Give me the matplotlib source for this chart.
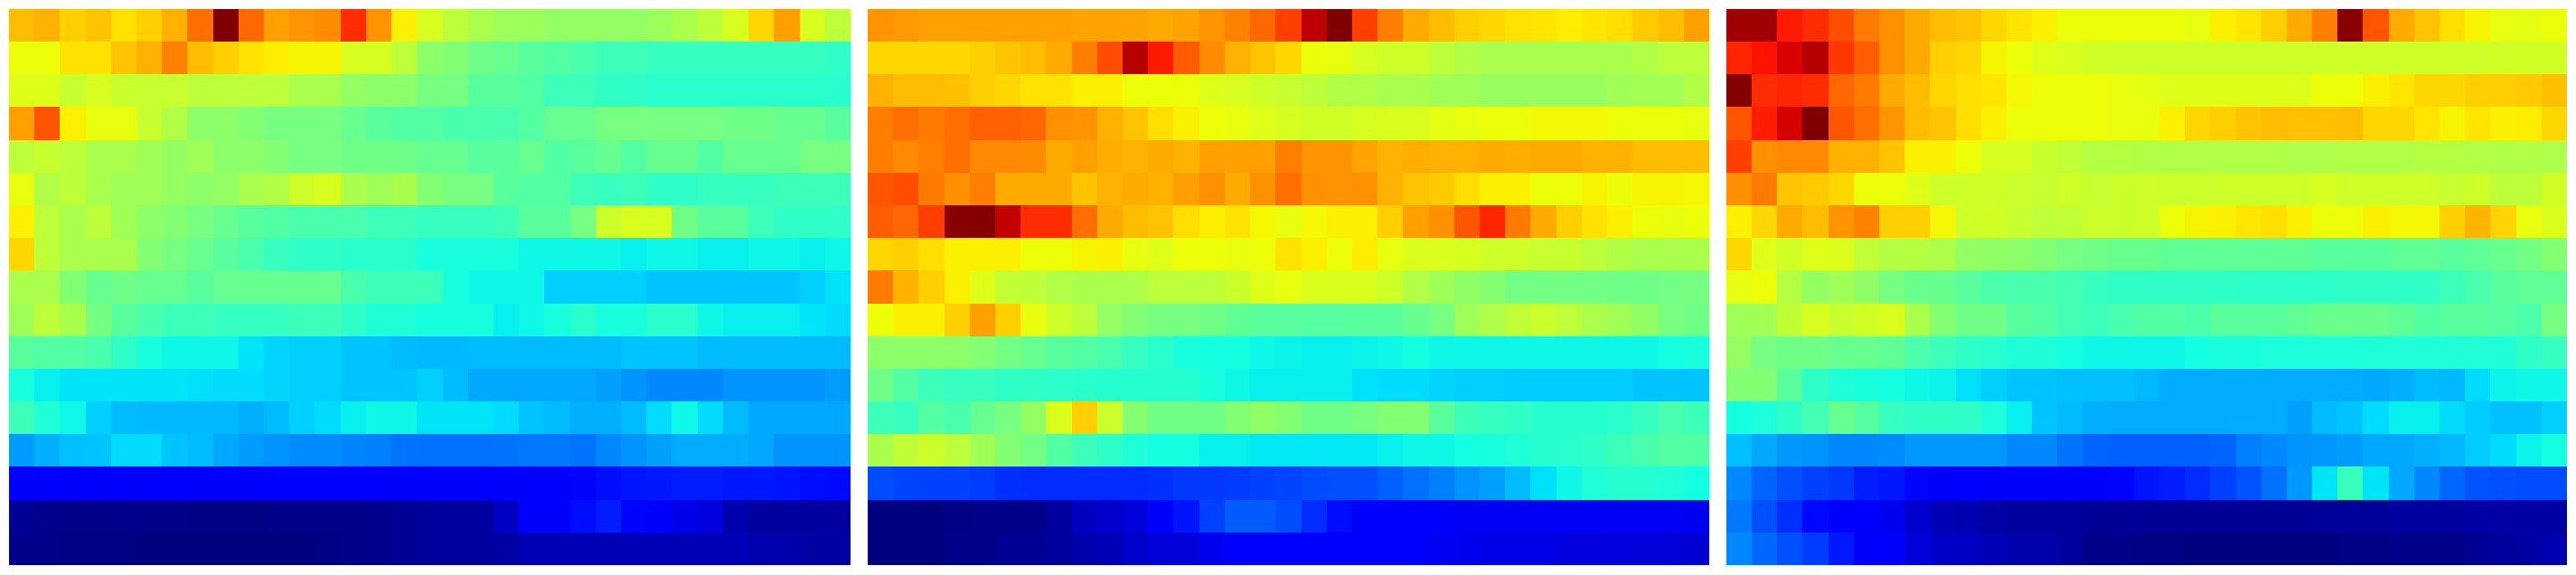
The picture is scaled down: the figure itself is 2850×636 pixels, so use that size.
import numpy as np
import matplotlib
matplotlib.use('Agg')
import matplotlib.pyplot as plt

# values, percent of the jet range, top row first
panel_a = [
    [71,72,69,70,67,69,72,79,100,80,74,75,76,86,75,65.5,61,58,55.5,54,54,53,53,53,53,54,55.5,58,61,68,74,61,58],
    [64,64,67,67,70,72,77,71,69,67,66,65,65,61,61,58,52,51,48.5,47.5,46,45,44,42.5,42.5,41.5,41.5,41.5,41.5,41.5,41.5,41.5,41],
    [62,62,59,61,59,59,59,58,58,58,58,55.5,55.5,53,52,52,49.5,49.5,46,46,45,42.5,42.5,41,41,40,40,40,40,40,40,40,40],
    [74,82,65.5,63,63,59,56.5,52,52,51,49.5,49.5,49.5,47.5,46,45,45,44,44,44,45,47.5,47.5,49.5,49.5,49.5,49.5,49.5,48.5,48.5,47.5,47.5,46],
    [58,59,58,55.5,55.5,54.5,53,54.5,52,52,51,49.5,49.5,48.5,48.5,48.5,47.5,47.5,46,46,47.5,45,46,47.5,45,47.5,47.5,45,47.5,47.5,47.5,49.5,49.5],
    [63,56.5,58,55.5,54.5,54.5,53,52,53,55.5,56.5,60,61,55.5,54.5,55.5,51,49.5,49.5,46,45,45,42.5,41.5,42.5,41,41,41.5,41.5,41.5,42.5,42.5,42.5],
    [65.5,58,55.5,58,54.5,52,51,49.5,47.5,46,45,44,44,44,42.5,42.5,41.5,41.5,41.5,42.5,46,46,49.5,60,61,61,48.5,46,46,42.5,41,41,41],
    [68,58,55.5,55.5,55.5,51,49.5,47.5,46,44,41.5,41,41,40,40,40,38,38,38,38,37,37,37,37,36,37,37,36,36,37,37,36,37],
    [55.5,55.5,51,47.5,48.5,47.5,47.5,46,47.5,47.5,47.5,47.5,47.5,44,42.5,42.5,42.5,38,37,37,37,33,33,33,33,32,32,32,32,32,32,33,35],
    [54.5,58,55.5,49.5,46,44,42.5,42.5,41.5,41.5,41.5,42.5,42.5,41,39,39,38,38,38,36,37,38,40,38,38,40,40,37,36,36,36,35,34],
    [46,45,45,44,41,38,37,37,37,35,33.5,33,33,32,32,31,30.5,30.5,31,31,31,31,31,31,32,32,32,31,31,31,31,31,31],
    [38,36,35,35,35,35,35,34.5,34,34,33.5,33,33,32,32,32,33,31,29,29,29,29,29,28.5,27,26,26,26,27,27,27,27,28],
    [42.5,39,37,33,31,30.5,30.5,30.5,30.5,30,31,33,34,36,37,37,35,35,35,34,32,31,30,30,31,34,37,34,31,29,29,29,29],
    [28,30,31.5,32,34,34,32,31,29,28,27,26.5,26.5,25.5,25,24,23.5,23.5,23.5,24,24.5,24.5,24,26,27,28.5,29.5,29.5,29.5,29,27,27,27],
    [12,12,12,12,12,12,12,12,12,12,12,12,12,12,12,12,12,12,12,12,12,12,13,14,14.5,15,15.5,15.5,15,15,14.5,14,13.5],
    [2,1.5,1,1,1.5,1,1,0.5,0.5,0.5,1,1,1,1,1.5,2,2.5,3,3,6,11,11,14,15.5,13,12.5,9,8.5,4,3,3,3,3],
    [1,1,0.5,0.5,0.5,0.3,0.3,0,0,0,0,0,0.5,1,1.5,2,2.5,3,3,3.5,5,5,5,5,5,5,5,5,5,4.5,4,3.5,3.5],
]

panel_b = [
    [75,74.5,74,74,74,74,74,74,73.5,73.5,73.5,73,73.5,75,77,80,84,94.5,100,84,77.5,73,71,69,68,67,66.5,66,66.5,67.5,69.5,71,74],
    [68,68,68,68,69,70,71,73,77.5,82.5,95,88,81,76,72,70,68,64,63,61,60,60,58,56.5,55.5,55.5,55.5,55.5,55.5,55.5,56.5,58,58],
    [72,71,71,70.5,69,68,67,67,65.5,65.5,64,64,64,62,61,60,59,58,56.5,56.5,55.5,55.5,54.5,54.5,53.5,53.5,53.5,53.5,53.5,54.5,55,55,56.5],
    [77.5,79,78,79,80.5,80.5,80,75.5,75,72,70,67.5,65.5,64,63,62,61,60.5,60.5,61,61.5,61.5,62.5,63,64,64,64.5,64.5,64.5,64,64,64,63],
    [77.5,76.5,77.5,79,76.5,76.5,76,73,74,72.5,72,73,72,74,74,74,77.5,75,75,73.5,72,72.5,72,72,73,72.5,73,73,72,72,71,71,71],
    [82,82.5,78,75.5,77.5,73,73,73,70,72,73,72,74,75.5,73,75.5,79,75.5,75,75.5,72,70,69.5,67.5,65.5,65.5,64,64,65,64,65,65,64.5],
    [81,80,84,99,99.5,94,86,86,79,73,71,70,67.5,65.5,67,64.5,63,64.5,65.5,65.5,69,74,75.5,82,87,78,73,69,67,65.5,64,63,64],
    [68,69,67.5,65.5,65.5,65.5,64,64,65,65.5,63,62,64,64,63,64,67,65.5,64,66,63,61.5,61.5,61,60,60,59,59,58,56.5,55.5,55.5,55.5],
    [78,72,69,65.5,62,58.5,58,56.5,55.5,55.5,56,58,58,58,59.5,62,63,61.5,61.5,61.5,60,56.5,54.5,52.5,51.5,49,49,49,49,48.5,48.5,49,49.5],
    [64,65.5,65.5,69,74,69,63,60,58,53,51,49.5,49.5,48.5,46.5,46,46,45.5,45.5,46,46,47.5,49.5,54.5,56,58.5,59.5,58,55.5,54.5,52.5,49.5,48.5],
    [52,52,52,52,51,49,47.5,46,45,44,41.5,40,38,37.5,37.5,37,36.5,36,36,36.5,37,37.5,37,37,37,37,37,37,37,37,37,37.5,38],
    [48.5,45,42.5,41.5,41.5,41,41,40.5,40,39.5,39.5,39.5,39.5,38,37,36,36,36,36,34.5,34,34,33.5,33,33,32.5,32.5,32.5,32.5,32.5,32,32,32],
    [42.5,41.5,45,44,47.5,49.5,53,61.5,69,59.5,51.5,48.5,48.5,48.5,51,52.5,51,48.5,48.5,49.5,51,51,46,42.5,41.5,41,39.5,39.5,39.5,40,41.5,44,42.5],
    [55.5,58.5,59.5,58,54.5,51,49,45,42.5,41,39,37.5,37.5,36,36,35.5,35.5,35.5,35.5,35.5,36,37,37,37.5,38,39,39.5,40,41,42.5,44,45,45],
    [20,19.5,19,19,18.5,17.5,17,17,17,17,17,17.5,18,18,18.5,19,19.5,20,20.5,20.5,22,23.5,25,27,28.5,31,34.5,37,39,39.5,39.5,39,37.5],
    [0,0,0,0.5,1,1,1,3,5.5,7,8,12,14.5,19,21.5,21.5,20,17,14,12,12,11,11,10.5,10.5,10.5,10.5,10.5,10.5,10.5,10.5,10.5,10],
    [0,0,0,1,1,2,2,3,4,5,7,8,8,10,11,11.5,11.5,11.5,11.5,11,11,11,10.5,10,9,9,9,8.5,8.5,8,8,8,7.5],
]

panel_c = [
    [97,97,88,86,82.5,78,75.5,73,71,70,68,66.5,65.5,64,64,64,64,64,63,65.5,66.5,69,73,77.5,99,82,73,70,67.5,65,63,62.5,64],
    [87,89,92,95,85,81,75.5,73,69,68,65,64,62,61.5,60.5,60,60,60,60,60,60,60,60,60,60,60,60,60,60,60,60.5,60.5,60.5],
    [99.5,86,87,86,80,78,73,71,68,67.5,66.5,64.5,64,64,64,63,62.5,62,62,62,62,62,62,64,64,65.5,66.5,68,68,69,69,69.5,70.5],
    [82,87.5,92.5,100,82,79,75,71,70,67.5,65.5,64,64,64,64,63,63,65.5,68,69,70,71,70.5,70.5,71,68,68,66.5,65,66.5,65.5,66,68],
    [84,75.5,76.5,76.5,72,72,70,65.5,65.5,64,61,61,59,58.5,57,57,56.5,56.5,56.5,56.5,56.5,56.5,56,56,56.5,56.5,56.5,57,57,56.5,56.5,56.5,56],
    [75.5,78,70,69.5,68,64,64,62,60,60,60,59.5,59,60,59,59.5,60,59.5,59.5,60,60,60,60,61,60,60,60,60,59,60,58,58,60.5],
    [65.5,68,73,71,75,77,69,69,64.5,60,60.5,59,58,58.5,59.5,59.5,60,64,65,65.5,66.5,67.5,65.5,64,64,65.5,64.5,64.5,69,71.5,68.5,63,61.5],
    [68,62,60.5,62,61.5,58.5,57,57,56,53,52.5,52,51,49.5,48.5,48,48,46.5,46.5,46.5,46.5,46.5,46.5,46,46,46,46.5,46.5,46,46.5,48,49,51],
    [63,64,57,53,54.5,52.5,49.5,48,47.5,46,44.5,44,44,43,41.5,41,41,41,41,41,40.5,40.5,40.5,40.5,41,41,41,41,42.5,44,46,46.5,46.5],
    [54.5,55,58.5,61,59,60.5,61.5,55.5,51,48.5,48.5,46,45,43,42.5,44,45,45,44.5,46,46,46,46.5,48,48,48,46.5,45,46,46,45.5,44.5,49.5],
    [53,49.5,48.5,48.5,47.5,47.5,46.5,44.5,42.5,41,40,39,39,37.5,37,37,37,37,37.5,38,38,38.5,38.5,38.5,38.5,39,39,39,39,39,39,41,41.5],
    [51,51,46,41,39,38,37.5,37,36.5,34.5,33,32,32,31.5,31.5,31.5,30.5,29.5,29.5,29.5,29.5,29.5,29.5,29.5,29.5,29,30,31,30.5,34,36.5,37,37],
    [37.5,38.5,40.5,43,47.5,45.5,41.5,41,41,41,38.5,36,32,31,30,29.5,29.5,29.5,29.5,29.5,29.5,29.5,28.5,31,32,34,36,36,34,32.5,31.5,31.5,33],
    [31.5,29,27.5,27,26,26,26.5,27.5,27.5,27.5,27.5,26,26,24,22.5,22,22,22,22,22.5,25,26,27,27.5,28,29,29,30,30.5,32.5,34,36.5,37.5],
    [26,22.5,20.5,19,18,15.5,15,13,12.5,12,12,12,12,12,12,13,14.5,15.5,17,19,21,23.5,27.5,35,42,35,29,26,23,21,20.5,20,20],
    [24.5,20.5,17.5,13.5,11.5,11.5,10,7,5,4.5,3.5,3,3,2.5,2,2,2,2,2,2,2,2,2,2.5,2.5,2.5,3,3,3,3.5,3.5,3.5,3.5],
    [26,23,20.5,18.5,15,12,12,8,6.5,6,5,4,4,3,1,1,0.5,0.5,0,0,0,0,0,0,0.5,0.5,1,1,1,2,2.5,3.5,4.5],
]

W, H = 2850, 636
fig = plt.figure(figsize=(W / 100, H / 100), dpi=100)

# three panels, 930x615 px, 20 px apart
for i, panel in enumerate([panel_a, panel_b, panel_c]):
    ax = fig.add_axes([(10 + i * 950) / W, 11 / H, 930 / W, 615 / H])
    ax.imshow(np.array(panel), cmap='jet', vmin=0, vmax=100, aspect='auto', interpolation='nearest')
    ax.axis('off')

fig.savefig('out.png', dpi=100)
